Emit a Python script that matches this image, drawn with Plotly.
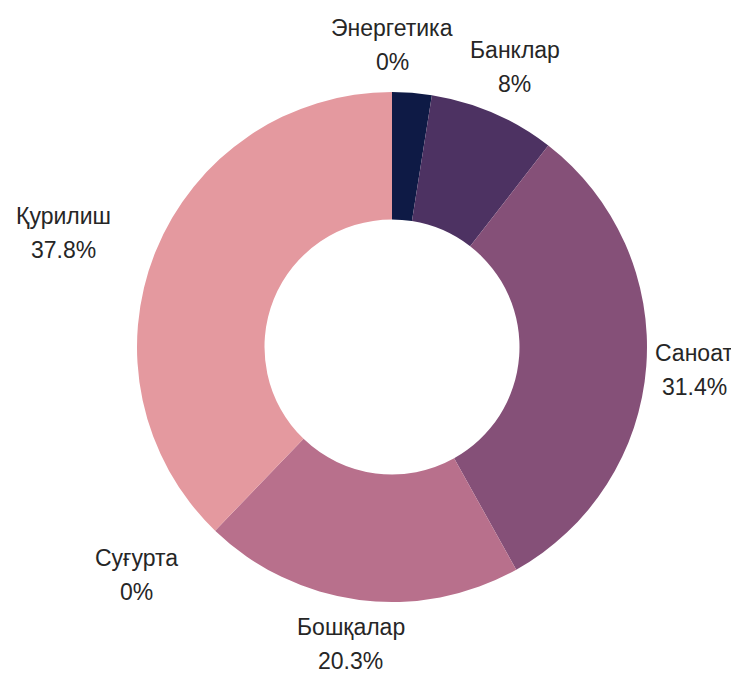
import math
import plotly.graph_objects as go

# ---- data ----
categories = ["Энергетика", " ", "Банклар", "Саноат", "Бошқалар", "Суғурта", "Қурилиш"]
values = [0, 2.5, 8, 31.4, 20.3, 0, 37.8]
show_label = [True, False, True, True, True, True, True]
colors = ["#0e1a45", "#0e1a45", "#4d3262", "#855078", "#b8708c", "#d08a98", "#e4999f"]

# ---- layout constants ----
WIDTH, HEIGHT = 739, 675
PAGE = 8                      # default body margin of the html page
CX, CY, R = 392 - PAGE, 347 - PAGE, 255   # pie centre in figure pixels
FONT = dict(family="Liberation Sans, Arial, sans-serif", size=23, color="#262626")

fig = go.Figure(go.Pie(
    labels=categories,
    values=values,
    hole=0.5,
    sort=False,
    direction="clockwise",
    rotation=0,
    marker=dict(colors=colors, line=dict(width=0)),
    textinfo="none",
    hoverinfo="label+percent",
    showlegend=False,
    domain=dict(x=[(CX - R) / WIDTH, (CX + R) / WIDTH],
                y=[(HEIGHT - CY - R) / HEIGHT, (HEIGHT - CY + R) / HEIGHT]),
))


def fmt_pct(v, total):
    p = round(v / total * 100, 1)
    return (f"{p:.0f}" if p == int(p) else f"{p:.1f}") + "%"


# labels placed outside each slice, from the slice's mid angle
total = sum(values)
cum = 0.0
annotations = []
OFF, PAD, HALF_H, LINE_GAP, CHAR_W = 10, 4, 37, 17, 13.2
for name, v, show in zip(categories, values, show_label):
    a0 = cum / total * 2 * math.pi
    cum += v
    a1 = cum / total * 2 * math.pi
    if not show:
        continue
    mid = (a0 + a1) / 2
    vx, vy = math.sin(mid), -math.cos(mid)
    pct = fmt_pct(v, total)
    text_w = max(len(name), len(pct)) * CHAR_W
    half_w = text_w / 2 + PAD
    vs = 1 / max(abs(vx), abs(vy))
    dx = half_w * vx * vs
    dy = HALF_H * vy * vs
    if vx < -0.5:
        dx *= 1 + 0.7 * abs(vx)
    elif vx > 0.2:
        dx -= 4
    px = CX + vx * (R + OFF) + dx
    py = CY + vy * (R + OFF) + dy
    px = min(px, WIDTH - PAGE - 5 - text_w / 2)
    py = min(py, HEIGHT - PAGE - LINE_GAP - 14)
    for txt, oy in ((name, -LINE_GAP), (pct, LINE_GAP)):
        annotations.append(dict(
            x=px / WIDTH, y=1 - (py + oy) / HEIGHT, xref="paper", yref="paper",
            text=txt, showarrow=False, xanchor="center", yanchor="middle",
            font=FONT,
        ))

fig.update_layout(
    width=WIDTH, height=HEIGHT,
    margin=dict(l=0, r=0, t=0, b=0),
    paper_bgcolor="white", plot_bgcolor="white",
    annotations=annotations,
    font=FONT,
)

fig.write_html("out.html")
